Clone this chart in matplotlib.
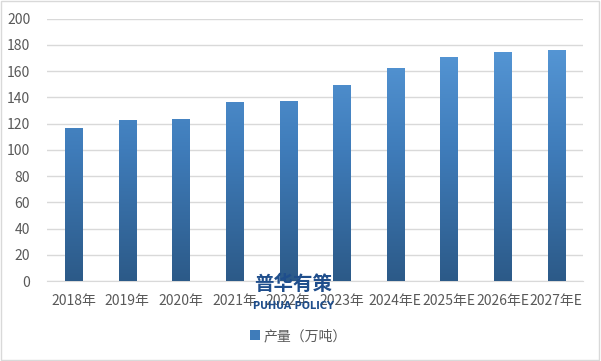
import numpy as np
import matplotlib.pyplot as plt
from matplotlib.colors import LinearSegmentedColormap
from matplotlib.patches import Rectangle

plt.rcParams['font.family'] = ['Noto Sans CJK SC', 'DejaVu Sans']

# 数据
years = ['2018年', '2019年', '2020年', '2021年', '2022年', '2023年',
         '2024年E', '2025年E', '2026年E', '2027年E']
output = [116.6, 122.7, 123.4, 136.4, 137.1, 149.3, 162.3, 170.7, 174.5, 176.0]

grad = LinearSegmentedColormap.from_list('g', ['#2c5a88', '#3f7cba', '#5b9ddc'])
txt_col = '#595959'

fig = plt.figure(figsize=(6.01, 3.61), dpi=100)
ax = fig.add_axes([0.078, 0.2216, 0.892, 0.727])

x = np.arange(len(years))
bars = ax.bar(x, output, width=0.32, color='none', edgecolor='none', zorder=3)
ax.set_xlim(-0.5, len(years) - 0.5)
ax.set_ylim(0, 200)

# 渐变填充
img = np.linspace(0, 1, 256).reshape(-1, 1)
for b in bars:
    bx, by = b.get_x(), b.get_y()
    w, h = b.get_width(), b.get_height()
    im = ax.imshow(img, cmap=grad, origin='lower', aspect='auto',
                   extent=[bx, bx + w, 0, 200], zorder=3)
    clip = Rectangle((bx, by), w, h, transform=ax.transData)
    im.set_clip_path(clip)

ax.set_yticks(range(0, 201, 20))
ax.yaxis.grid(True, color='#d9d9d9', linewidth=1, zorder=0)
ax.set_axisbelow(True)
for s in ['top', 'right', 'left']:
    ax.spines[s].set_visible(False)
ax.spines['bottom'].set_color('#d9d9d9')
ax.tick_params(axis='both', length=0, labelsize=10, colors=txt_col)
ax.tick_params(axis='x', pad=9)
ax.tick_params(axis='y', pad=12)
ax.set_xticks(x)
ax.set_xticklabels(years)

# 图例
leg_patch = Rectangle((0, 0), 1, 1, facecolor='#3f7cba')
fig.legend([leg_patch], ['产量（万吨）'], loc='center', bbox_to_anchor=(0.497, 0.069),
           frameon=False, fontsize=10, labelcolor=txt_col, handlelength=0.7,
           handleheight=0.7, handletextpad=0.3)

# 水印
fig.text(0.488, 0.213, '普华有策', ha='center', va='center', fontsize=14,
         fontweight='bold', color='#1f4e8c')
fig.text(0.488, 0.152, 'PUHUA POLICY', ha='center', va='center', fontsize=7,
         fontweight='bold', color='#1f4e8c', family='DejaVu Sans')

# 外框
fig.patches.append(Rectangle((0.002, 0.003), 0.995, 0.993, transform=fig.transFigure,
                             fill=False, edgecolor='#d9d9d9', linewidth=1))

fig.savefig('out.png', dpi=100)
